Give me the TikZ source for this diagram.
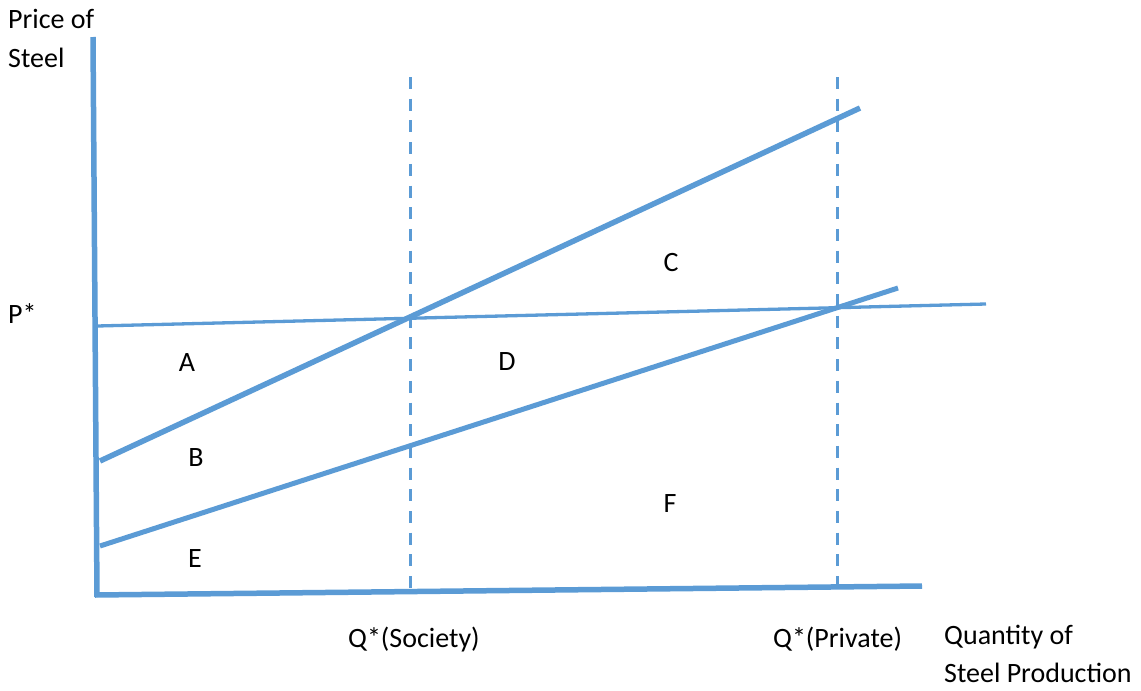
\documentclass[tikz,border=0pt]{standalone}
\usepackage{fontspec}
\setmainfont{Carlito}
\definecolor{lb}{RGB}{91,155,213}
\begin{document}
\begin{tikzpicture}[x=1pt,y=-1pt,
  axisline/.style={draw=lb,line width=5.5pt},
  thick curve/.style={draw=lb,line width=5.5pt},
  mid curve/.style={draw=lb,line width=5pt},
  price line/.style={draw=lb,line width=3.3pt},
  guide/.style={draw=lb,line width=3pt,dash pattern=on 12pt off 9.7pt},
  lbl/.style={inner sep=0pt,font=\fontsize{28}{39}\selectfont,anchor=base west},
  area/.style={inner sep=0pt,font=\fontsize{28}{39}\selectfont,anchor=center}]
\useasboundingbox (0,0) rectangle (1141,691);
% coordinates
\coordinate (ytop) at (93,37);
\coordinate (origin) at (97,597);
\coordinate (xl) at (95,595);
\coordinate (xr) at (922,586);
\coordinate (pl) at (97,326);
\coordinate (pr) at (986,304);
\coordinate (sl) at (100,461);
\coordinate (sr) at (860,108);
\coordinate (ml) at (100,546);
\coordinate (mr) at (898,288);
\coordinate (qs1) at (410,77);
\coordinate (qs2) at (410,592);
\coordinate (qp1) at (837,77);
\coordinate (qp2) at (837,586);
% guides
\draw[guide] (qs1) -- (qs2);
\draw[guide] (qp1) -- (qp2);
% lines
\draw[price line] (pl) -- (pr);
\draw[thick curve] (sl) -- (sr);
\draw[mid curve] (ml) -- (mr);
% axes
\draw[axisline] (ytop) -- (origin);
\draw[axisline] (xl) -- (xr);
% labels
\node[lbl] (ylab1) at (8,28) {Price of};
\node[lbl] (ylab2) at (8,67) {Steel};
\node[lbl] (pstar) at (8,323) {P*};
\node[lbl] (qsoc) at (348,647) {Q*(Society)};
\node[lbl] (qpriv) at (773,647) {Q*(Private)};
\node[lbl] (xlab1) at (944,644) {Quantity of};
\node[lbl] (xlab2) at (944,682) {Steel Production};
\node[area] (A) at (187,363) {A};
\node[area] (B) at (196,458) {B};
\node[area] (E) at (195,559) {E};
\node[area] (C) at (671,263) {C};
\node[area] (D) at (507,362) {D};
\node[area] (F) at (670,504) {F};
\end{tikzpicture}
\end{document}
